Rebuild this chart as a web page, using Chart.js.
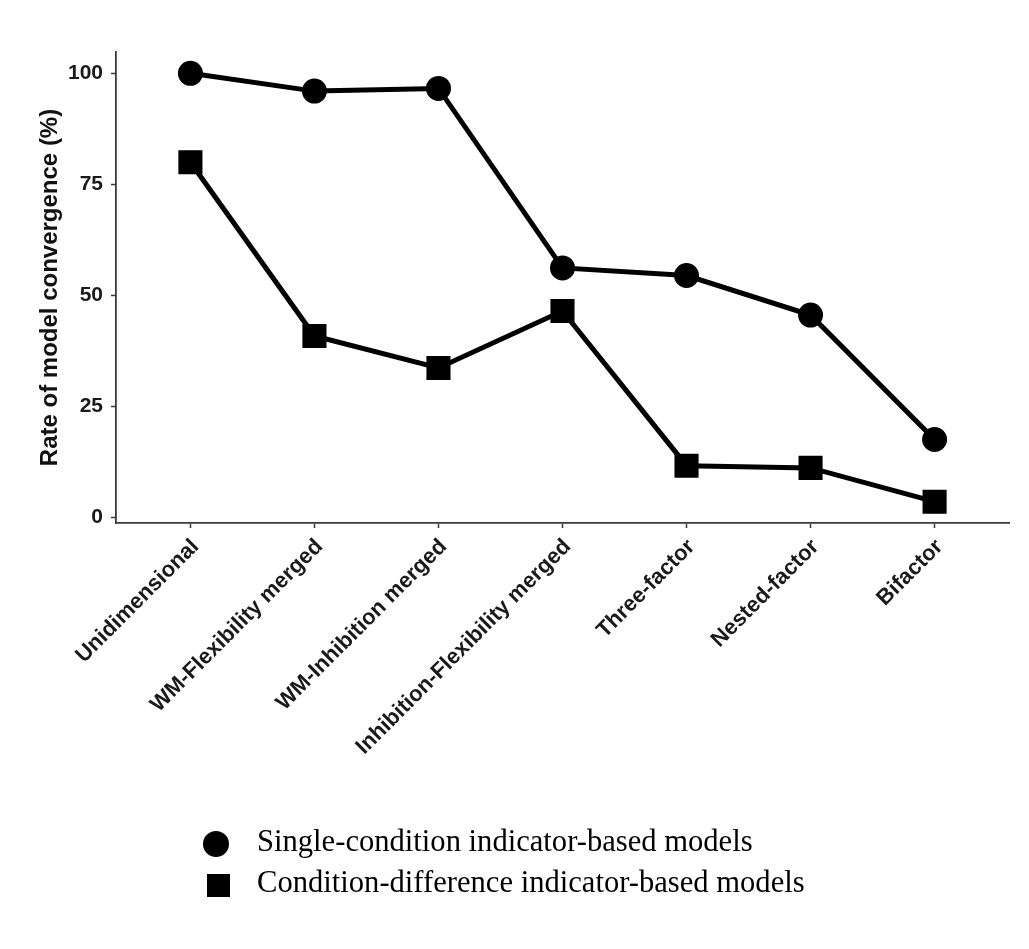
<!DOCTYPE html>
<html>
<head>
<meta charset="utf-8">
<script src="https://cdn.jsdelivr.net/npm/chart.js@4.4.1/dist/chart.umd.min.js"></script>
<style>
  html, body { margin: 0; padding: 0; background: #fff; }
  #wrap { position: relative; width: 1029px; height: 949px; }
  canvas { position: absolute; left: 0; top: 0; }
  .leg { position: absolute; left: 0; font-family: "Liberation Serif", "Times New Roman", serif; font-size: 30.6px; line-height: 1; color: #000; white-space: nowrap; }
  .mk { position: absolute; background: #000; }
</style>
</head>
<body>
<div id="wrap">
  <canvas id="c" width="1029" height="949"></canvas>
</div>
<script>
const categories = ["Unidimensional", "WM-Flexibility merged", "WM-Inhibition merged", "Inhibition-Flexibility merged", "Three-factor", "Nested-factor", "Bifactor"];
const singleCondition = [100, 96.0, 96.6, 56.2, 54.5, 45.6, 17.6];
const conditionDifference = [80.0, 40.9, 33.7, 46.5, 11.7, 11.2, 3.6];
const yTicks = [0, 25, 50, 75, 100];
const seriesNames = ["Single-condition indicator-based models", "Condition-difference indicator-based models"];

const axisColor = "#3a3a3a";
const sans = "Liberation Sans, Arial, sans-serif";

new Chart(document.getElementById("c"), {
  type: "line",
  data: {
    datasets: [
      {
        label: seriesNames[0],
        data: singleCondition.map((v, i) => ({ x: i, y: v })),
        borderColor: "#000", backgroundColor: "#000",
        borderWidth: 5, pointStyle: "circle", pointRadius: 10, pointHoverRadius: 10,
        tension: 0
      },
      {
        label: seriesNames[1],
        data: conditionDifference.map((v, i) => ({ x: i, y: v })),
        borderColor: "#000", backgroundColor: "#000",
        borderWidth: 5, pointStyle: "rect", pointRadius: 13.5, pointHoverRadius: 13.5,
        tension: 0
      }
    ]
  },
  options: {
    responsive: false,
    animation: false,
    devicePixelRatio: 1,
    layout: { padding: { left: 36, top: 52, right: 20, bottom: 0 } },
    plugins: { legend: { display: false }, tooltip: { enabled: false } },
    scales: {
      x: {
        type: "linear",
        min: -0.6, max: 6.6,
        afterBuildTicks: (s) => { s.ticks = categories.map((c, i) => ({ value: i })); },
        afterFit: (s) => { s.height = 949 - 523; },
        grid: { drawOnChartArea: false, drawTicks: true, tickLength: 5, tickColor: axisColor, tickWidth: 1.5 },
        border: { display: true, color: axisColor, width: 1.8 },
        ticks: {
          autoSkip: false, minRotation: 45, maxRotation: 45, padding: 6, labelOffset: 5,
          color: "#1a1a1a", font: { family: sans, size: 22, weight: "bold" },
          callback: (v) => categories[v]
        }
      },
      y: {
        type: "linear",
        min: -1.2, max: 104.8,
        afterBuildTicks: (s) => { s.ticks = yTicks.map(v => ({ value: v })); },
        afterFit: (s) => { s.width = 116 - 36; },
        grid: { drawOnChartArea: false, drawTicks: true, tickLength: 5, tickColor: axisColor, tickWidth: 1.5 },
        border: { display: true, color: axisColor, width: 1.8 },
        ticks: { color: "#1a1a1a", font: { family: sans, size: 21, weight: "bold" }, padding: 8 },
        title: {
          display: true, text: "Rate of model convergence (%)", color: "#111",
          font: { family: sans, size: 24, weight: "bold" },
          padding: { top: 0, bottom: 0 }
        }
      }
    }
  }
});

// HTML legend (real text)
const wrap = document.getElementById("wrap");
const legendRows = [
  { name: seriesNames[0], shape: "circle", cy: 844, top: 826.4 },
  { name: seriesNames[1], shape: "square", cy: 885, top: 867.4 }
];
legendRows.forEach(r => {
  const m = document.createElement("div");
  m.className = "mk";
  if (r.shape === "circle") {
    m.style.width = "26px"; m.style.height = "26px"; m.style.borderRadius = "50%";
    m.style.left = (216 - 13) + "px"; m.style.top = (r.cy - 13) + "px";
  } else {
    m.style.width = "23px"; m.style.height = "23px";
    m.style.left = (218 - 11.5) + "px"; m.style.top = (r.cy - 11.5) + "px";
  }
  wrap.appendChild(m);
  const t = document.createElement("div");
  t.className = "leg";
  t.textContent = r.name;
  t.style.left = "257px";
  t.style.top = r.top + "px";
  wrap.appendChild(t);
});
</script>
</body>
</html>
